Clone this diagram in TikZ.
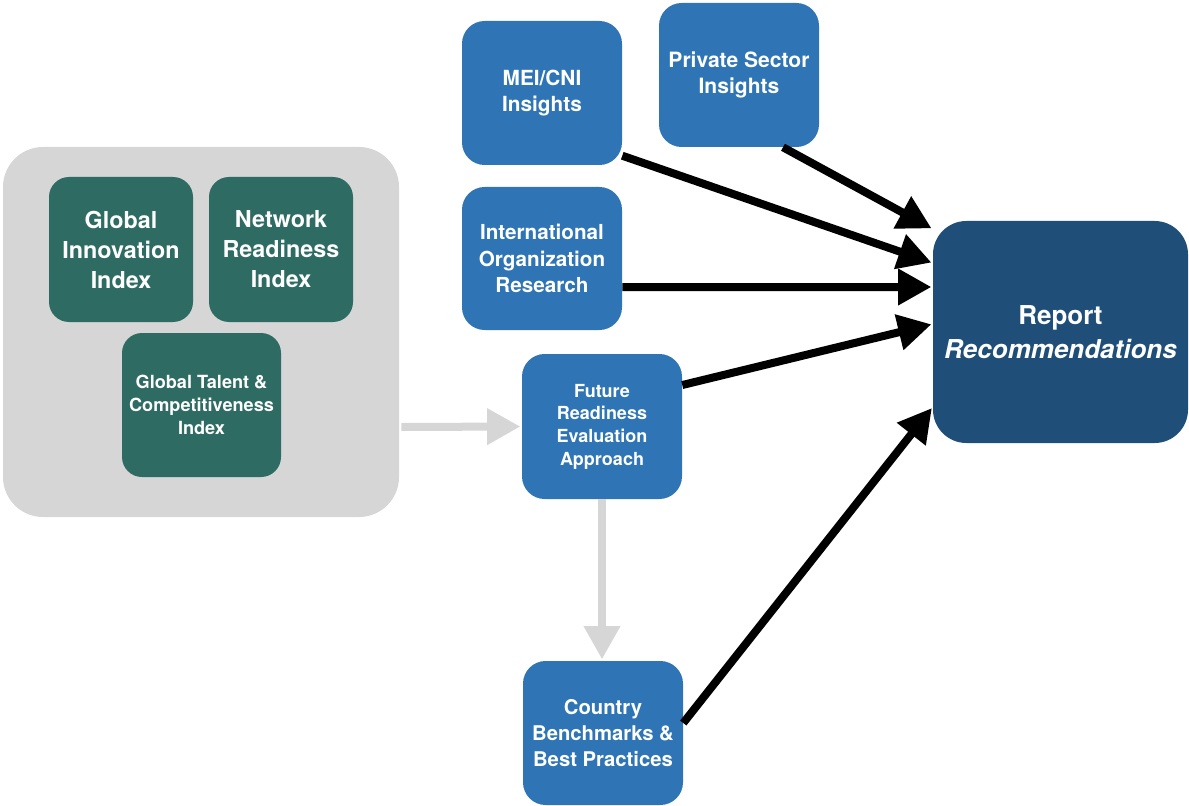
\documentclass[tikz,border=0pt]{standalone}
\usepackage{fontspec}
\setmainfont{TeX Gyre Heros}
\usetikzlibrary{arrows.meta}

\definecolor{idxgreen}{HTML}{2E6B63}
\definecolor{srcblue}{HTML}{2F75B5}
\definecolor{repblue}{HTML}{1F4E79}
\definecolor{boxgray}{HTML}{D6D6D6}

\begin{document}
\begin{tikzpicture}[x=0.75pt,y=-0.75pt]
        \tikzstyle{every node}=[text=white, align=center, inner sep=0pt, font=\bfseries]
        \tikzstyle{index}=[fill=idxgreen, rounded corners=15pt, minimum width=108pt, minimum height=108.75pt]
        \tikzstyle{source}=[fill=srcblue, rounded corners=17pt, minimum width=120pt, minimum height=108pt]
        \tikzstyle{feed}=[line width=6pt, -{Triangle[length=25pt,width=26pt]}, shorten >=1pt]
        \tikzstyle{flow}=[feed, draw=boxgray]
        \useasboundingbox (0,0) rectangle (1189,806);

        % index group
        \node[fill=boxgray, rounded corners=30pt, minimum width=297pt, minimum height=277.5pt] (indices) at (201,332) {};
        \node[index, font=\bfseries\fontsize{17.5}{22.5}\selectfont] (gii) at (121,249.5) {Global\\Innovation\\Index};
        \node[index, font=\bfseries\fontsize{17.5}{22.5}\selectfont] (nri) at (281,249.5) {Network\\Readiness\\Index};
        \node[index, minimum width=119.25pt, minimum height=108pt, font=\bfseries\fontsize{13.6}{17}\selectfont] (gtci) at (201.5,405) {Global Talent \&\\Competitiveness\\Index};

        % inputs
        \node[source, font=\bfseries\fontsize{15.6}{20}\selectfont] (mei) at (542,93) {MEI/CNI\\Insights};
        \node[source, font=\bfseries\fontsize{15.8}{20}\selectfont] (psi) at (739,75) {Private Sector\\Insights};
        \node[source, minimum height=107.25pt, font=\bfseries\fontsize{15.5}{20}\selectfont] (ior) at (542,258.5) {International\\Organization\\Research};
        \node[source, minimum height=108.75pt, font=\bfseries\fontsize{13.5}{17}\selectfont] (frea) at (602,426.5) {Future\\Readiness\\Evaluation\\Approach};
        \node[source, font=\bfseries\fontsize{15.2}{19.3}\selectfont] (cbbp) at (603,733) {Country\\Benchmarks \&\\Best Practices};

        % output
        \node[fill=repblue, rounded corners=25pt, minimum width=191.25pt, minimum height=166.5pt, font=\bfseries\fontsize{19.5}{26}\selectfont] (report) at (1060.5,332) {Report\\\textit{Recommendations}};

        \draw[flow] ([yshift=-71.25pt,xshift=1.5pt]indices.east) -- (frea.west);
        \draw[flow] (frea.south) -- (frea.south |- cbbp.north);

        \draw[feed] ([xshift=33pt]psi.south) -- ([yshift=77.25pt]report.west);
        \draw[feed] (mei.-38.7) -- ([yshift=51.75pt]report.west);
        \draw[feed] ([yshift=-21.4pt]ior.east) -- ([yshift=33.75pt]report.west);
        \draw[feed] ([yshift=31.1pt]frea.east) -- ([yshift=6pt]report.west);
        \draw[feed] ([yshift=7.5pt]cbbp.east) -- ([yshift=-56.25pt]report.west);
    \end{tikzpicture}
\end{document}
